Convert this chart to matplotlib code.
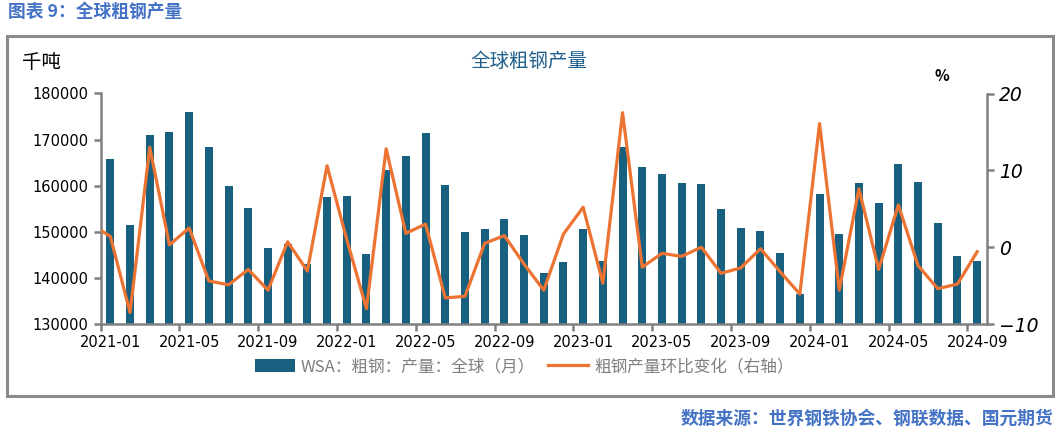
import numpy as np
import matplotlib.pyplot as plt
from matplotlib.patches import Rectangle

plt.rcParams['font.family'] = ['Noto Sans CJK SC', 'DejaVu Sans']

# monthly data 2021-01 .. 2024-09
months = []
for y in range(2021, 2025):
    for m in range(1, 13):
        if y == 2024 and m > 9:
            break
        months.append('%d-%02d' % (y, m))

output = [165900, 151500, 171100, 171700, 175900, 168300, 160000, 155200, 146500, 147400,
          143000, 157600, 157800, 145200, 163500, 166500, 171500, 160200, 150000, 150650,
          152800, 149350, 141100, 143500, 150650, 143700, 168500, 164100, 162600, 160650,
          160400, 155000, 150870, 150200, 145400, 136500, 158300, 149600, 160650, 156300,
          164800, 160900, 152000, 144800, 143700]

# month-on-month change (%), first value is 2020-12 (clipped off the axis)
mom_prev = 3.0
mom = [1.4, -8.5, 13.0, 0.3, 2.5, -4.4, -4.9, -2.9, -5.6, 0.7,
       -3.1, 10.6, 1.0, -8.0, 12.8, 1.8, 3.0, -6.6, -6.4, 0.5,
       1.5, -2.2, -5.6, 1.7, 5.2, -4.7, 17.5, -2.6, -0.8, -1.2,
       0.0, -3.4, -2.7, -0.2, -3.2, -6.1, 16.1, -5.6, 7.6, -2.9,
       5.5, -2.4, -5.4, -4.8, -0.6]

bar_color = '#17607f'
line_color = '#ec7331'
blue = '#4472c4'
grey = '#808080'

fig = plt.figure(figsize=(10.64, 4.41), dpi=100)

# outer frame
fig.patches.append(Rectangle((7 / 1064, 1 - 396 / 441), 1046 / 1064, 360 / 441,
                             transform=fig.transFigure, fill=False,
                             edgecolor='#8a8a8a', linewidth=2.2))

fig.text(8 / 1064, 1 - 12 / 441, '图表 9：全球粗钢产量', color=blue, fontsize=12.8,
         fontweight='bold', va='center', ha='left')
fig.text(1053 / 1064, 1 - 419 / 441, '数据来源：世界钢铁协会、钢联数据、国元期货',
         color=blue, fontsize=12.8, fontweight='bold', va='center', ha='right')
fig.text(529 / 1064, 1 - 61 / 441, '全球粗钢产量', color='#1f5f8b', fontsize=14,
         va='center', ha='center')
fig.text(22 / 1064, 1 - 62 / 441, '千吨', color='black', fontsize=14,
         va='center', ha='left')
fig.text(942 / 1064, 1 - 76 / 441, '%', color='black', fontsize=11,
         fontweight='bold', style='italic', va='center', ha='center')

ax = fig.add_axes([100.5 / 1064, 1 - 324 / 441, 886.5 / 1064, 230.5 / 441])
x = np.arange(len(months))
ax.bar(x, output, width=0.41, color=bar_color, label='WSA：粗钢：产量：全球（月）')
ax.set_ylim(130000, 180000)
ax.set_yticks(np.arange(130000, 180001, 10000))
ax.set_xlim(-0.5, len(months) - 0.5)
# labels at bar centres, tick marks on category boundaries
ax.set_xticks(x[::4])
ax.set_xticklabels(months[::4])
ax.set_xticks(x[::4] - 0.5, minor=True)

ax2 = ax.twinx()
ax2.plot(np.arange(-1, len(months)), [mom_prev] + mom, color=line_color, linewidth=2.3,
         label='粗钢产量环比变化（右轴）')
ax2.set_ylim(-10, 20)
ax2.set_yticks([-10, 0, 10, 20])
ax2.set_xlim(-0.5, len(months) - 0.5)

for a in (ax, ax2):
    a.spines['top'].set_visible(False)
    for s in ('left', 'right', 'bottom'):
        a.spines[s].set_color(grey)
        a.spines[s].set_linewidth(1.8)
    a.tick_params(colors=grey, length=5, width=1.8)
ax.spines['right'].set_visible(False)
ax2.spines['left'].set_visible(False)
ax2.spines['bottom'].set_visible(False)
ax.tick_params(axis='x', which='major', length=0, pad=8)
ax.tick_params(axis='x', which='minor', length=5, width=1.8, color=grey)

for lab in ax.get_yticklabels() + ax.get_xticklabels():
    lab.set_fontfamily('DejaVu Sans')
    lab.set_fontsize(10.5)
    lab.set_color('black')
for lab in ax2.get_yticklabels():
    lab.set_fontfamily('DejaVu Sans')
    lab.set_fontsize(13.5)
    lab.set_style('italic')
    lab.set_color('black')

h1, l1 = ax.get_legend_handles_labels()
h2, l2 = ax2.get_legend_handles_labels()
leg = fig.legend(h1 + h2, l1 + l2, loc='center', bbox_to_anchor=(524 / 1064, 1 - 367 / 441),
                 ncol=2, frameon=False, fontsize=12, handlelength=2.4, handleheight=0.8,
                 columnspacing=0.8, handletextpad=0.35)
for t in leg.get_texts():
    t.set_color('#7f7f7f')

fig.savefig('out.png', dpi=100)
